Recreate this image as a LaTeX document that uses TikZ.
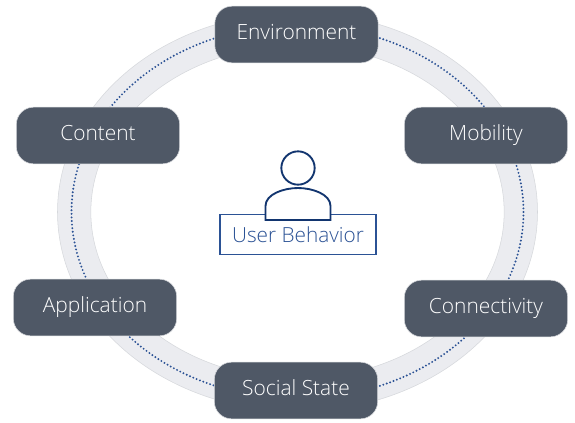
\documentclass[tikz,border=0pt]{standalone}
\usepackage{fontspec}
\setmainfont{Open Sans Light}
\definecolor{boxfill}{HTML}{4F5866}
\definecolor{ringfill}{HTML}{EBECF0}
\definecolor{ringline}{HTML}{D6D8DC}
\definecolor{navy}{HTML}{12356F}
\definecolor{labelblue}{HTML}{2B5295}
\tikzset{
  x=0.75pt,y=-0.75pt,
  stage/.style={draw=ringline,line width=0.4pt,fill=boxfill,rounded corners=13pt,minimum width=122.5pt,minimum height=42.5pt,inner sep=0pt,text=white,text height=11pt,text depth=2.8pt,font=\fontsize{15.7}{18}\selectfont},
  dotring/.style={draw=labelblue,line width=1.6pt,line cap=round,dash pattern=on 0pt off 2.7pt},
}
\begin{document}
\begin{tikzpicture}
\useasboundingbox (0,0) rectangle (575,422);
\fill[white] (0,0) rectangle (575,422);
\coordinate (c) at (297.5,212);
\path[fill=ringfill,draw=ringline,line width=0.4pt,even odd rule] (c) ellipse [x radius=180pt,y radius=149.5pt] (c) ellipse [x radius=155pt,y radius=125pt];
\draw[dotring] (c) ellipse [x radius=169.5pt,y radius=140pt];
\node[stage] (env) at (296.5,34.5) {Environment};
\node[stage] (mob) at (486,135.5) {Mobility};
\node[stage] (con) at (98,135.5) {Content};
\node[stage] (cnv) at (486,308.5) {Connectivity};
\node[stage] (app) at (95,307.5) {Application};
\node[stage] (soc) at (296,390.5) {Social State};
\node[draw=labelblue,line width=0.8pt,fill=white,minimum width=117pt,minimum height=29.5pt,inner sep=0pt,text=labelblue,text height=14pt,text depth=2pt,font=\fontsize{15.6}{18}\selectfont] (usr) at (298,234.5) {User Behavior};
\draw[navy,line width=1.4pt,fill=white] (265.5,220) -- (265.5,206) .. controls (265.5,194) and (284,188) .. (298,188) .. controls (312,188) and (330.5,194) .. (330.5,206) -- (330.5,220) -- cycle;
\node[draw=navy,line width=1.4pt,circle,minimum size=25pt,inner sep=0pt] (head) at (298,168) {};
\end{tikzpicture}
\end{document}
